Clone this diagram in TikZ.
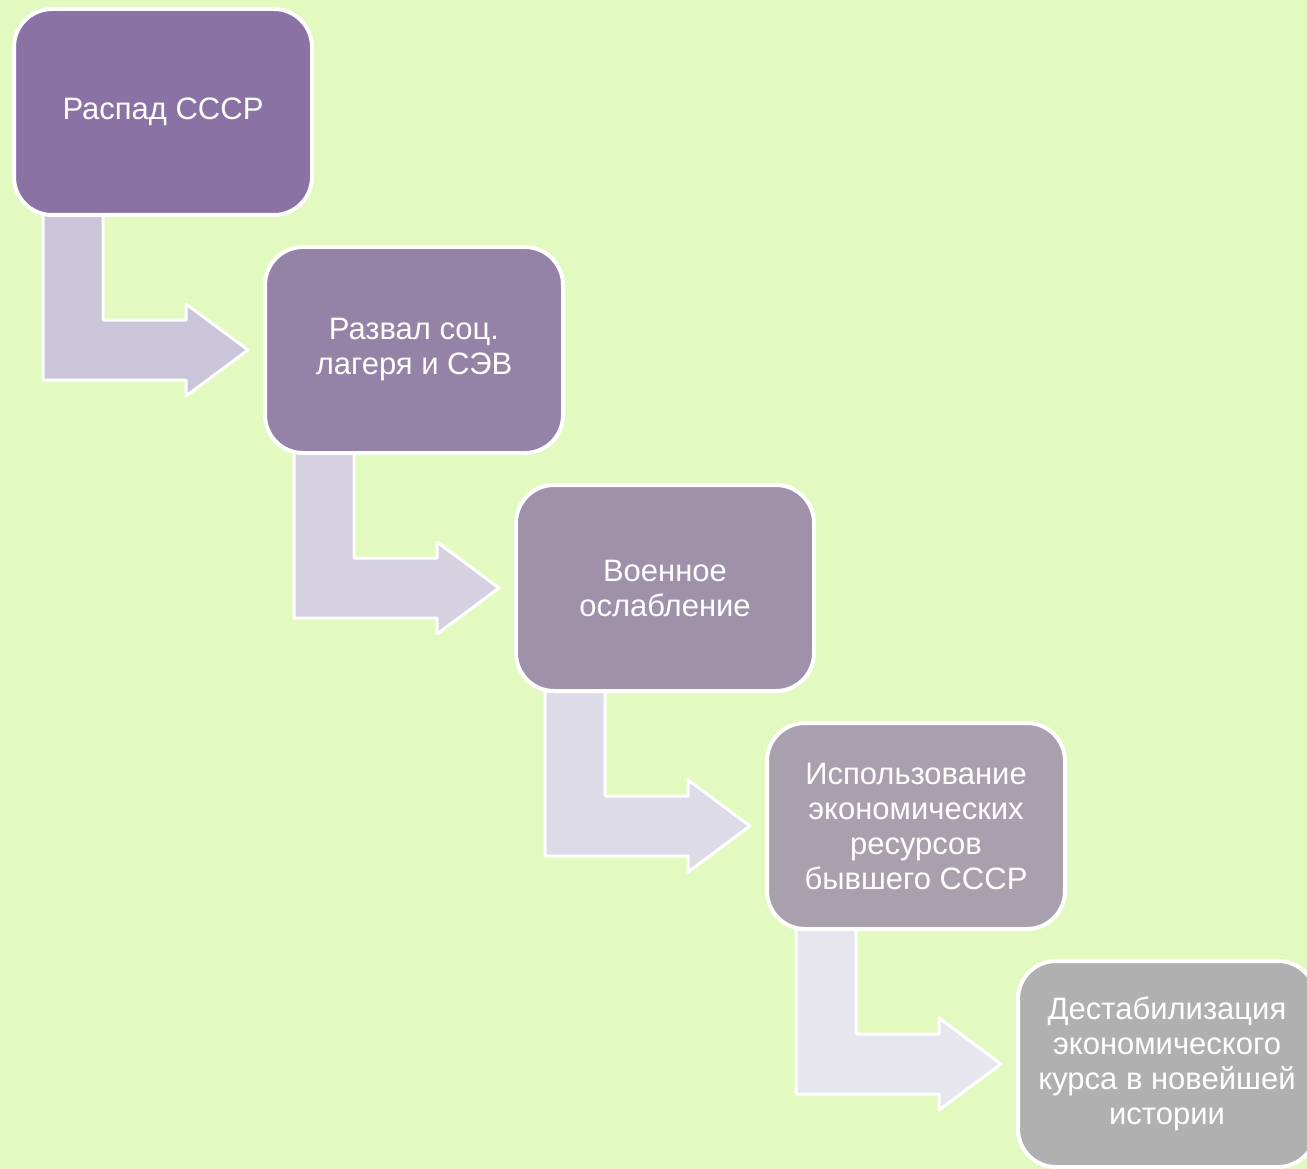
\documentclass[tikz,border=0pt]{standalone}
\usepackage{fontspec}
\setmainfont{Liberation Sans}
\usetikzlibrary{calc}
\pgfdeclarelayer{back}
\pgfdeclarelayer{arrows}
\pgfsetlayers{back,arrows,main}
\definecolor{bggreen}{HTML}{E2F9C0}
\definecolor{boxA}{HTML}{8A73A4}
\definecolor{boxB}{HTML}{9483A7}
\definecolor{boxC}{HTML}{9F91AA}
\definecolor{boxD}{HTML}{A8A0AC}
\definecolor{boxE}{HTML}{B0B0B0}
\definecolor{arrA}{HTML}{CBC5D9}
\definecolor{arrB}{HTML}{D6D1E1}
\definecolor{arrC}{HTML}{DEDBE8}
\definecolor{arrD}{HTML}{E7E5EE}
\tikzset{
	stage/.style={draw=white,line width=4pt,rounded corners=38pt,minimum width=298pt,minimum height=206pt,inner sep=0pt,text=white,align=center,font=\fontsize{31}{35}\selectfont},
	bent/.style={draw=white,line width=3pt,line join=round}
}
\begin{document}
\begin{tikzpicture}[x=1pt,y=-1pt]
	\useasboundingbox (0,0) rectangle (1307,1169);
	\begin{pgfonlayer}{back}
		\fill[bggreen] (0,0) rectangle (1307,1169);
	\end{pgfonlayer}
	\node[stage,fill=boxA] (b1) at (163,112) {Распад СССР};
	\node[stage,fill=boxB] (b2) at (414,350) {Развал соц.\\лагеря и СЭВ};
	\node[stage,fill=boxC] (b3) at (665,588) {Военное\\ослабление};
	\node[stage,fill=boxD] (b4) at (916,826) {Использование\\экономических\\ресурсов\\бывшего СССР};
	\node[stage,fill=boxE] (b5) at (1167,1064) {Дестабилизация\\экономического\\курса в новейшей\\истории};
	\begin{pgfonlayer}{arrows}
		\foreach \i/\j/\c in {1/2/arrA,2/3/arrB,3/4/arrC,4/5/arrD}
			\draw[bent,fill=\c] ($(b\i.south west)+(31,-4)$) |- ($(b\j.west)+(-77,30)$) -- ++(0,16) -- ($(b\j.west)+(-15,0)$) -- ++(-62,-46) -- ++(0,16) -| ($(b\i.south west)+(91,-4)$) -- cycle;
	\end{pgfonlayer}
\end{tikzpicture}
\end{document}
